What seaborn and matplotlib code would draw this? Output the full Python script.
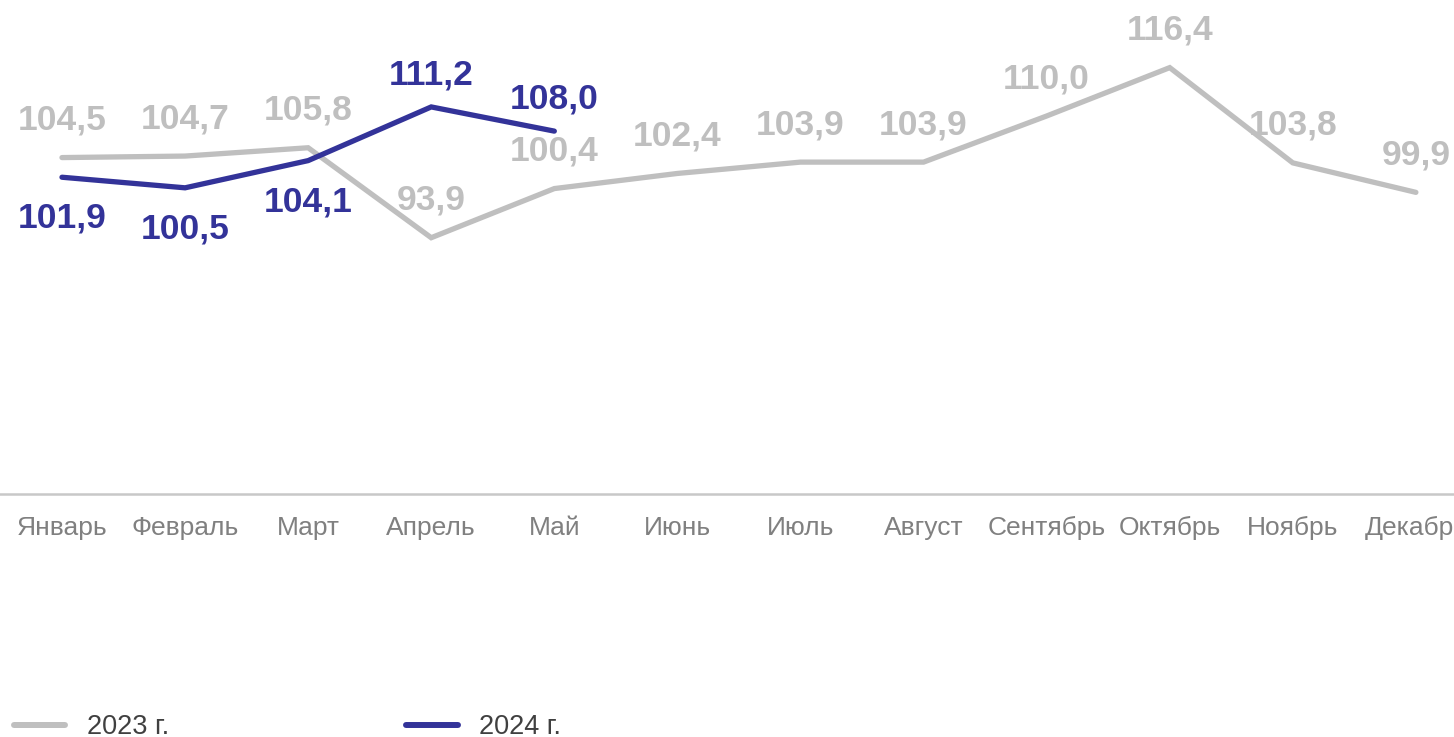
import numpy as np
import pandas as pd
import matplotlib
matplotlib.use("Agg")
import matplotlib.pyplot as plt
import seaborn as sns
from matplotlib.lines import Line2D

months = ["Январь", "Февраль", "Март", "Апрель", "Май", "Июнь",
          "Июль", "Август", "Сентябрь", "Октябрь", "Ноябрь", "Декабрь"]
values_2023 = [104.5, 104.7, 105.8, 93.9, 100.4, 102.4, 103.9, 103.9, 110.0, 116.4, 103.8, 99.9]
values_2024 = [101.9, 100.5, 104.1, 111.2, 108.0]
series_names = ["2023 г.", "2024 г."]

sns.set_style("white")
plt.rcParams["font.family"] = ["Liberation Sans", "DejaVu Sans"]

c2023 = "#BFBFBF"
c2024 = "#333399"

df = pd.concat([
    pd.DataFrame({"pos": np.arange(len(values_2023)), "value": values_2023, "year": series_names[0]}),
    pd.DataFrame({"pos": np.arange(len(values_2024)), "value": values_2024, "year": series_names[1]}),
])

fig = plt.figure(figsize=(14.54, 7.37), dpi=100)
ax = fig.add_axes([0.0003, 243 / 737, 1477 / 1454, 491.4 / 737])

sns.lineplot(data=df, x="pos", y="value", hue="year",
             palette={series_names[0]: c2023, series_names[1]: c2024},
             linewidth=3.8, legend=False, ax=ax, sort=False)
for ln in ax.get_lines():
    ln.set_solid_capstyle("round")
    ln.set_solid_joinstyle("miter")

ax.set_xlim(-0.5, 11.5)
ax.set_ylim(60, 125)
ax.set_xticks(np.arange(len(months)))
ax.set_xticklabels(months)
ax.set_yticks([])
ax.set_xlabel("")
ax.set_ylabel("")
ax.tick_params(axis="x", length=0, pad=16, labelsize=19, labelcolor="#808080")
for s in ["top", "left", "right"]:
    ax.spines[s].set_visible(False)
ax.spines["bottom"].set_color("#C8C8C8")
ax.spines["bottom"].set_linewidth(1.8)

def fmt(v):
    return f"{v:.1f}".replace(".", ",")

# 2023 labels above
for i, v in enumerate(values_2023):
    ax.annotate(fmt(v), (i, v), xytext=(0, 27), textcoords="offset points",
                ha="center", va="center", fontsize=25.5, fontweight="bold",
                color=c2023, annotation_clip=False)

# 2024 labels: first three below, last two above
above_2024 = [False, False, False, True, True]
for i, v in enumerate(values_2024):
    dy = 23 if above_2024[i] else -29.5
    ax.annotate(fmt(v), (i, v), xytext=(0, dy), textcoords="offset points",
                ha="center", va="center", fontsize=25.5, fontweight="bold",
                color=c2024, annotation_clip=False)

handles = [Line2D([0], [0], color=c2023, linewidth=4.3),
           Line2D([0], [0], color=c2024, linewidth=4.3)]
fig.legend(handles, series_names, loc="center left",
           bbox_to_anchor=(14 / 1454, 10 / 737), ncol=2, frameon=False,
           fontsize=19.5, labelcolor="#404040", handlelength=1.9,
           handletextpad=0.8, columnspacing=8.75, borderpad=0, borderaxespad=0)

fig.savefig("out.png", dpi=100)
